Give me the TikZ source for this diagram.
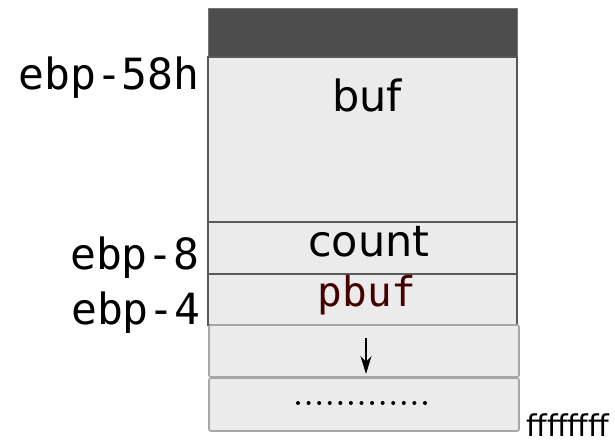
\documentclass[tikz,border=0pt]{standalone}
\usepackage{fontspec}
\setmainfont{DejaVu Sans}
\setmonofont{DejaVu Sans Mono}
\usetikzlibrary{arrows.meta}
\definecolor{slotgray}{HTML}{EBEBEB}
\definecolor{savedgray}{HTML}{4D4D4D}
\definecolor{ptrred}{HTML}{440000}
\begin{document}
\begin{tikzpicture}[x=0.5pt,y=-0.5pt,
    slot/.style={fill=slotgray,draw=black!65,line width=0.6pt},
    freeslot/.style={fill=slotgray,draw=black!35,line width=0.8pt,rounded corners=1pt},
    var/.style={inner sep=0pt,anchor=base,font=\fontsize{21.5}{25}\selectfont},
    offset/.style={inner sep=0pt,anchor=base east,font=\ttfamily\fontsize{21.5}{25}\selectfont}]
    \useasboundingbox (0,0) rectangle (615,442);
    % stack frame, top to bottom
    \filldraw[fill=savedgray,draw=black!55] (208,8) rectangle (517,57);
    \filldraw[slot] (208,57) rectangle (517,222);
    \filldraw[slot] (208,222) rectangle (517,274);
    \filldraw[slot] (208,274) rectangle (517,325);
    \filldraw[freeslot] (209,325) rectangle (519,377);
    \filldraw[freeslot] (209,378) rectangle (519,431);
    % locals
    \node[var] (buf) at (367,112) {buf};
    \node[var] (count) at (369,257) {count};
    \node[var,font=\ttfamily\fontsize{20.5}{24}\selectfont,text=ptrred] (pbuf) at (367,307) {pbuf};
    % offsets from ebp
    \node[offset] (off58) at (200,90) {ebp-58h};
    \node[offset] (off8) at (200,270) {ebp-8};
    \node[offset] (off4) at (201,325) {ebp-4};
    % growth direction
    \coordinate (growtop) at (366,338);
    \coordinate (growtip) at (366,374);
    \draw[line width=0.8pt,-{Stealth[length=9pt,width=5.5pt]}] (growtop) -- (growtip);
    \foreach \i in {0,...,12}
        \fill (298+10.58*\i,403) circle (1pt);
    \node[inner sep=0pt,anchor=base west,font=\fontsize{15}{18}\selectfont] (topaddr) at (526,437) {ffffffff};
\end{tikzpicture}
\end{document}
